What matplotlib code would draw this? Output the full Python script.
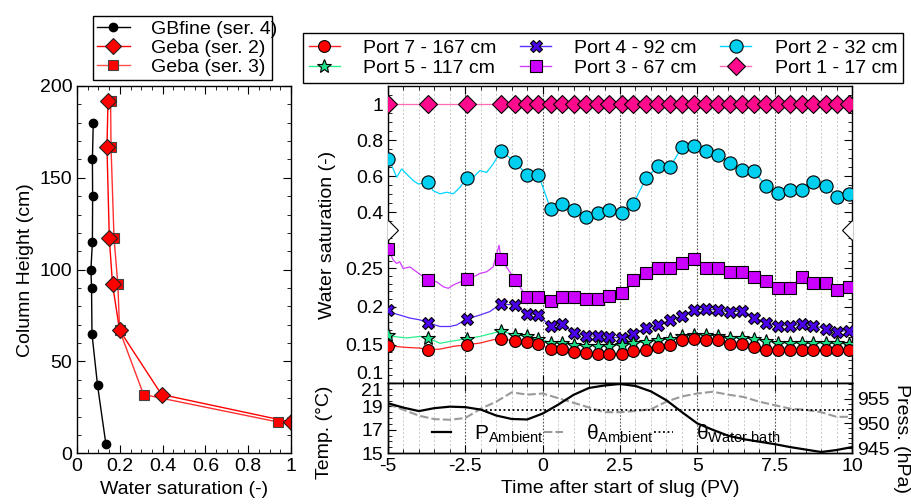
import numpy as np
import matplotlib
matplotlib.use('Agg')
import matplotlib.pyplot as plt
from matplotlib.lines import Line2D
from matplotlib.ticker import FixedLocator, MultipleLocator, FuncFormatter

plt.rcParams['font.family'] = ['Liberation Sans', 'DejaVu Sans']
plt.rcParams['mathtext.fontset'] = 'custom'
plt.rcParams['mathtext.rm'] = 'Liberation Sans'
plt.rcParams['mathtext.it'] = 'Liberation Sans:italic'
plt.rcParams['font.size'] = 13
plt.rcParams['axes.linewidth'] = 1.0

# ---- column profile (left panel) ----
gb_h = [180, 160, 140, 115, 100, 90, 65, 37, 5]
gb_s = [0.076, 0.072, 0.073, 0.072, 0.065, 0.068, 0.070, 0.096, 0.135]
geba2_h = [192, 167, 117, 92, 67, 32, 17]
geba2_s = [0.145, 0.140, 0.151, 0.166, 0.199, 0.395, 1.0]
geba3_h = [192, 167, 117, 92, 67, 32, 17]
geba3_s = [0.157, 0.159, 0.173, 0.191, 0.199, 0.311, 0.941]

# ---- port saturations (sampled points) ----
t_port = [-5.0, -3.72, -2.46, -1.35, -0.89, -0.52, -0.14, 0.26, 0.64, 1.01, 1.39,
          1.78, 2.16, 2.56, 2.93, 3.34, 3.74, 4.12, 4.50, 4.89, 5.28, 5.68, 6.06,
          6.46, 6.83, 7.22, 7.62, 8.00, 8.38, 8.75, 9.15, 9.53, 9.91]
port1 = [1.0, 1.0, 1.0, 1.0, 1.0, 1.0, 1.0, 1.0, 1.0, 1.0, 1.0, 1.0, 1.0, 1.0, 1.0, 1.0, 1.0,
         1.0, 1.0, 1.0, 1.0, 1.0, 1.0, 1.0, 1.0, 1.0, 1.0, 1.0, 1.0, 1.0, 1.0, 1.0, 1.0]
port2 = [0.696, 0.566, 0.590, 0.738, 0.681, 0.609, 0.609, 0.417, 0.447, 0.413, 0.372,
         0.397, 0.413, 0.398, 0.447, 0.588, 0.655, 0.651, 0.760, 0.765, 0.740, 0.719,
         0.675, 0.633, 0.631, 0.544, 0.507, 0.524, 0.524, 0.570, 0.546, 0.485, 0.502]
port3 = [0.276, 0.235, 0.236, 0.263, 0.235, 0.213, 0.213, 0.2075, 0.213, 0.213, 0.210,
         0.210, 0.214, 0.2175, 0.235, 0.244, 0.250, 0.250, 0.2575, 0.262, 0.251, 0.250,
         0.245, 0.245, 0.239, 0.234, 0.225, 0.225, 0.239, 0.2305, 0.2305, 0.222, 0.226]
port4 = [0.1957, 0.179, 0.1836, 0.2035, 0.202, 0.191, 0.189, 0.174, 0.177, 0.166, 0.162,
         0.161, 0.160, 0.159, 0.1644, 0.172, 0.176, 0.182, 0.188, 0.1957, 0.1966, 0.1957,
         0.1927, 0.1948, 0.1857, 0.179, 0.175, 0.175, 0.177, 0.175, 0.171, 0.1674, 0.1687]
port5 = [0.163, 0.159, 0.158, 0.168, 0.163, 0.161, 0.158, 0.153, 0.152, 0.150, 0.149,
         0.149, 0.149, 0.150, 0.152, 0.154, 0.156, 0.158, 0.161, 0.163, 0.163, 0.162,
         0.159, 0.159, 0.158, 0.155, 0.153, 0.152, 0.152, 0.152, 0.152, 0.152, 0.151]
port7 = [0.149, 0.1436, 0.150, 0.158, 0.155, 0.1536, 0.151, 0.1444, 0.145, 0.140, 0.1392,
         0.138, 0.138, 0.1383, 0.1414, 0.1436, 0.1466, 0.150, 0.1557, 0.1575, 0.1566, 0.1557,
         0.151, 0.151, 0.1466, 0.1436, 0.1427, 0.1427, 0.1427, 0.1427, 0.1427, 0.1427, 0.1436]

# continuous sensor trace between the first samples
gap2_t = [-4.88, -4.72, -4.56, -4.40, -4.18, -4.02, -3.54, -3.32, -3.10, -2.89, -2.67, -2.24, -2.03, -1.81, -1.60]
gap2_v = [0.659, 0.594, 0.640, 0.612, 0.575, 0.557, 0.520, 0.502, 0.511, 0.502, 0.539, 0.594, 0.631, 0.621, 0.668]
gap3_t = [-4.83, -4.72, -4.62, -4.51, -4.29, -4.08, -3.43, -3.21, -3.05, -2.89, -2.24, -2.03, -1.81, -1.60, -1.41]
gap3_v = [0.261, 0.2566, 0.2587, 0.250, 0.252, 0.2457, 0.2326, 0.226, 0.224, 0.2283, 0.239, 0.2435, 0.2457, 0.252, 0.2804]
gap4_t = [-4.83, -4.62, -4.29, -3.97, -3.32, -3.00, -2.78, -2.03, -1.71]
gap4_v = [0.1914, 0.189, 0.185, 0.1827, 0.174, 0.174, 0.176, 0.189, 0.1935]
gap5_t = [-4.83, -4.40, -3.97, -3.32, -3.00, -2.67, -2.03, -1.60]
gap5_v = [0.161, 0.159, 0.161, 0.152, 0.1544, 0.1566, 0.161, 0.1653]
gap7_t = [-4.83, -4.40, -3.97, -3.32, -2.89, -2.03, -1.60]
gap7_v = [0.148, 0.1466, 0.1457, 0.1444, 0.148, 0.1523, 0.1566]

# ---- ambient conditions (bottom panel) ----
t_env = [-5.0, -4.5, -4.0, -3.5, -3.0, -2.5, -2.0, -1.5, -1.0, -0.5, 0.0, 0.5, 1.0, 1.5, 2.0,
         2.5, 3.0, 3.5, 4.0, 4.5, 5.0, 5.5, 6.0, 6.5, 7.0, 7.5, 8.0, 8.5, 9.0, 9.5, 10.0]
p_amb = [954.1, 953.2, 952.5, 953.1, 953.4, 953.3, 952.8, 951.6, 950.9, 950.8, 952.0,
         953.8, 955.8, 957.2, 957.7, 958.0, 957.6, 956.5, 954.7, 952.3, 950.0, 948.7,
         947.5, 946.8, 946.3, 945.8, 945.2, 944.7, 944.2, 944.6, 945.2]
theta_amb = [19.2, 18.7, 18.2, 17.9, 17.85, 18.0, 18.8, 19.4, 20.2, 20.0, 20.1, 19.7,
             19.3, 18.9, 18.5, 18.5, 18.6, 18.75, 19.4, 19.85, 20.1, 20.25, 20.0, 19.8,
             19.4, 19.1, 18.8, 18.7, 18.5, 18.1, 18.1]
wb_t = [-2.0, 10.0]
wb_v = [18.7, 18.7]

T_MIN, T_MAX = -5.0, 10.0
BREAK = 0.3


def trace(gap_t, gap_v, t, v):
    tt = np.concatenate([gap_t, t, [T_MAX]])
    vv = np.concatenate([gap_v, v, [v[-1]]])
    order = np.argsort(tt)
    return tt[order], vv[order]


def fwd(v):
    v = np.asarray(v, dtype=float)
    return np.where(v < BREAK, (v - BREAK) * 765.0, (v - BREAK) * 180.7)


def inv(u):
    u = np.asarray(u, dtype=float)
    return np.where(u < 0, u / 765.0 + BREAK, u / 180.7 + BREAK)


fig = plt.figure(figsize=(9.12, 5.04), dpi=100)
W, H = 912.0, 504.0
ax_l = fig.add_axes([77 / W, 1 - 453.3 / H, 214 / W, 367.3 / H])
ax_m = fig.add_axes([388 / W, 1 - 383 / H, 464 / W, 297 / H])
ax_b = fig.add_axes([388 / W, 1 - 453 / H, 464 / W, 70 / H], sharex=ax_m)
ax_p = ax_b.twinx()

# ---------- left panel ----------
ax_l.plot(gb_s, gb_h, color='k', lw=1, marker='o', ms=6, mfc='k', mec='k')
ax_l.plot(geba3_s, geba3_h, color='#ff3030', lw=1, marker='s', ms=7, mfc='#ff0000', mec='#444444', mew=0.8)
ax_l.plot(geba2_s, geba2_h, color='#ff0000', lw=1, marker='D', ms=8, mfc='#ff0000', mec='#222222', mew=0.8)
ax_l.set_xlim(0, 1)
ax_l.set_ylim(0, 200)
ax_l.xaxis.set_major_locator(MultipleLocator(0.2))
ax_l.xaxis.set_minor_locator(MultipleLocator(0.05))
ax_l.yaxis.set_major_locator(MultipleLocator(50))
ax_l.yaxis.set_minor_locator(MultipleLocator(10))
ax_l.xaxis.set_major_formatter(FuncFormatter(lambda x, p: '%g' % round(x, 2)))
ax_l.tick_params(which='both', direction='in', top=True, right=True, labelsize=14)
ax_l.tick_params(which='major', length=6)
ax_l.tick_params(which='minor', length=3)
ax_l.set_xlabel('Water saturation (-)', fontsize=14)
ax_l.set_ylabel('Column Height (cm)', fontsize=14)

left_handles = [
    Line2D([], [], color='k', lw=1, marker='o', ms=6, mfc='k', mec='k'),
    Line2D([], [], color='#ff0000', lw=1, marker='D', ms=8, mfc='#ff0000', mec='#222222', mew=0.8),
    Line2D([], [], color='#ff5050', lw=1, marker='s', ms=7, mfc='#ff0000', mec='#444444', mew=0.8),
]
leg_l = fig.legend(left_handles, ['GBfine (ser. 4)', 'Geba (ser. 2)', 'Geba (ser. 3)'],
                   loc='lower left', bbox_to_anchor=(93 / W, 1 - 80 / H, 179 / W, 67 / H),
                   mode='expand', ncol=1, borderaxespad=0, fancybox=False, edgecolor='k',
                   framealpha=1, fontsize=14, handlelength=1.7, handletextpad=1.1,
                   labelspacing=0.08, borderpad=0.2)
leg_l.get_frame().set_linewidth(1.0)

# ---------- main panel ----------
ports = [
    (t_port, port1, None, None, '#ff6ab4', '#ff0a8c', 'D', 9.5, 'Port 1 - 17 cm'),
    (t_port, port2, gap2_t, gap2_v, '#00d4ff', '#00d0f0', 'o', 9.5, 'Port 2 - 32 cm'),
    (t_port, port3, gap3_t, gap3_v, '#d23cff', '#cc00ff', 's', 8.5, 'Port 3 - 67 cm'),
    (t_port, port4, gap4_t, gap4_v, '#5a2dff', '#4a00e8', 'X', 9.0, 'Port 4 - 92 cm'),
    (t_port, port5, gap5_t, gap5_v, '#28f08c', '#20e088', '*', 10.5, 'Port 5 - 117 cm'),
    (t_port, port7, gap7_t, gap7_v, '#ff2020', '#ff0000', 'o', 8.5, 'Port 7 - 167 cm'),
]
handles = {}
for t, v, gt, gv, lc, fc, mk, ms, lab in ports:
    if gt is None:
        lt = np.concatenate([t, [T_MAX]])
        lv = np.concatenate([v, [v[-1]]])
    else:
        lt, lv = trace(gt, gv, t, v)
    ax_m.plot(lt, lv, color=lc, lw=0.9, zorder=2)
    ax_m.plot(t, v, ls='none', marker=mk, ms=ms, mfc=fc, mec='k', mew=0.8, zorder=3)
    handles[lab] = Line2D([], [], color=lc, lw=1, marker=mk, ms=ms, mfc=fc, mec='k', mew=0.8)

ax_m.set_yscale('function', functions=(fwd, inv))
ax_m.set_ylim(0.1, 1.1)
ax_m.set_xlim(T_MIN, T_MAX)
major_y = [0.1, 0.15, 0.2, 0.25, 0.4, 0.6, 0.8, 1.0]
minor_y = [m for m in np.round(np.arange(0.11, 0.3, 0.01), 3) if m not in major_y] + \
          [m for m in np.round(np.arange(0.3, 1.1, 0.05), 3) if m not in major_y]
ax_m.yaxis.set_major_locator(FixedLocator(major_y))
ax_m.yaxis.set_minor_locator(FixedLocator(minor_y))
ax_m.yaxis.set_major_formatter(FuncFormatter(lambda y, p: '%g' % round(y, 3)))
ax_m.plot([0, 1], [BREAK, BREAK], transform=ax_m.get_yaxis_transform(), ls='none',
          marker='D', ms=10, mfc='white', mec='k', mew=0.8, zorder=6)
ax_m.set_ylabel('Water saturation (-)', fontsize=14)
ax_m.yaxis.set_label_coords(-0.112, 0.5)

for ax in (ax_m, ax_b):
    ax.xaxis.set_major_locator(MultipleLocator(2.5))
    ax.xaxis.set_minor_locator(MultipleLocator(0.5))
    ax.set_axisbelow(True)
    ax.grid(True, which='major', axis='x', color='#555555', ls=(0, (1.5, 1.5)), lw=0.8)
    ax.grid(True, which='minor', axis='x', color='#c8c8c8', ls=(0, (2, 2)), lw=0.7)

ax_m.tick_params(which='both', direction='in', top=True, right=True, labelbottom=False, labelsize=14)
ax_m.tick_params(which='major', length=6)
ax_m.tick_params(which='minor', length=3)
ax_m.yaxis.get_major_ticks()[0].label1.set_va('bottom')

order = ['Port 7 - 167 cm', 'Port 5 - 117 cm', 'Port 4 - 92 cm', 'Port 3 - 67 cm',
         'Port 2 - 32 cm', 'Port 1 - 17 cm']
leg_m = fig.legend([handles[k] for k in order], order, loc='lower left',
                   bbox_to_anchor=(303 / W, 1 - 83 / H, 600 / W, 61 / H), mode='expand',
                   ncol=3, borderaxespad=0, fancybox=False, edgecolor='k', framealpha=1,
                   fontsize=14, handlelength=1.6, handletextpad=1.2, labelspacing=0.15,
                   borderpad=0.3)
leg_m.get_frame().set_linewidth(1.0)

# ---------- bottom panel ----------
ax_b.plot(t_env, theta_amb, color='#9a9a9a', lw=1.5, ls=(0, (4, 1.5)))
ax_b.plot(wb_t, wb_v, color='k', lw=1.3, ls=(0, (1, 1.5)))
ax_p.plot(t_env, p_amb, color='k', lw=1.6)
ax_b.set_ylim(15, 21)
ax_b.yaxis.set_major_locator(FixedLocator([15, 17, 19, 21]))
ax_b.yaxis.set_minor_locator(MultipleLocator(0.5))
ax_p.set_ylim(944, 958.2)
ax_p.yaxis.set_major_locator(FixedLocator([945, 950, 955]))
ax_p.yaxis.set_minor_locator(MultipleLocator(1))
ax_b.set_xlim(T_MIN, T_MAX)
ax_b.xaxis.set_major_formatter(FuncFormatter(lambda x, p: '%g' % x))
ax_b.tick_params(which='both', direction='in', top=True, labelsize=14)
ax_b.tick_params(which='major', length=6)
ax_b.tick_params(which='minor', length=3)
ax_p.tick_params(which='both', direction='in', labelsize=14)
ax_p.tick_params(which='major', length=6)
ax_p.tick_params(which='minor', length=3)
ax_b.yaxis.get_major_ticks()[-1].label1.set_va('top')
ax_b.set_ylabel('Temp. (°C)', fontsize=14)
ax_b.yaxis.set_label_coords(-0.119, 0.3)
ax_p.set_ylabel('Press. (hPa)', fontsize=14, rotation=270, va='center')
ax_p.yaxis.set_label_coords(1.107, 0.2)
ax_b.set_xlabel('Time after start of slug (PV)', fontsize=14)

env_handles = [
    Line2D([], [], color='k', lw=1.6),
    Line2D([], [], color='#9a9a9a', lw=1.5, ls=(0, (4, 1.5))),
    Line2D([], [], color='k', lw=1.3, ls=(0, (1, 1.5))),
]
leg_b = ax_b.legend(env_handles, [r'P$_{\mathrm{Ambient}}$', r'θ$_{\mathrm{Ambient}}$',
                                  r'θ$_{\mathrm{Water\ bath}}$'],
                    loc='lower left', bbox_to_anchor=(0.084, 0.04, 0.772, 0.45), mode='expand',
                    ncol=3, borderaxespad=0, fancybox=False, edgecolor='k', framealpha=0,
                    fontsize=15, handlelength=0.9, handletextpad=1.1, borderpad=0.25)
leg_b.get_frame().set_linewidth(1.0)

fig.savefig('out.png', dpi=100)
